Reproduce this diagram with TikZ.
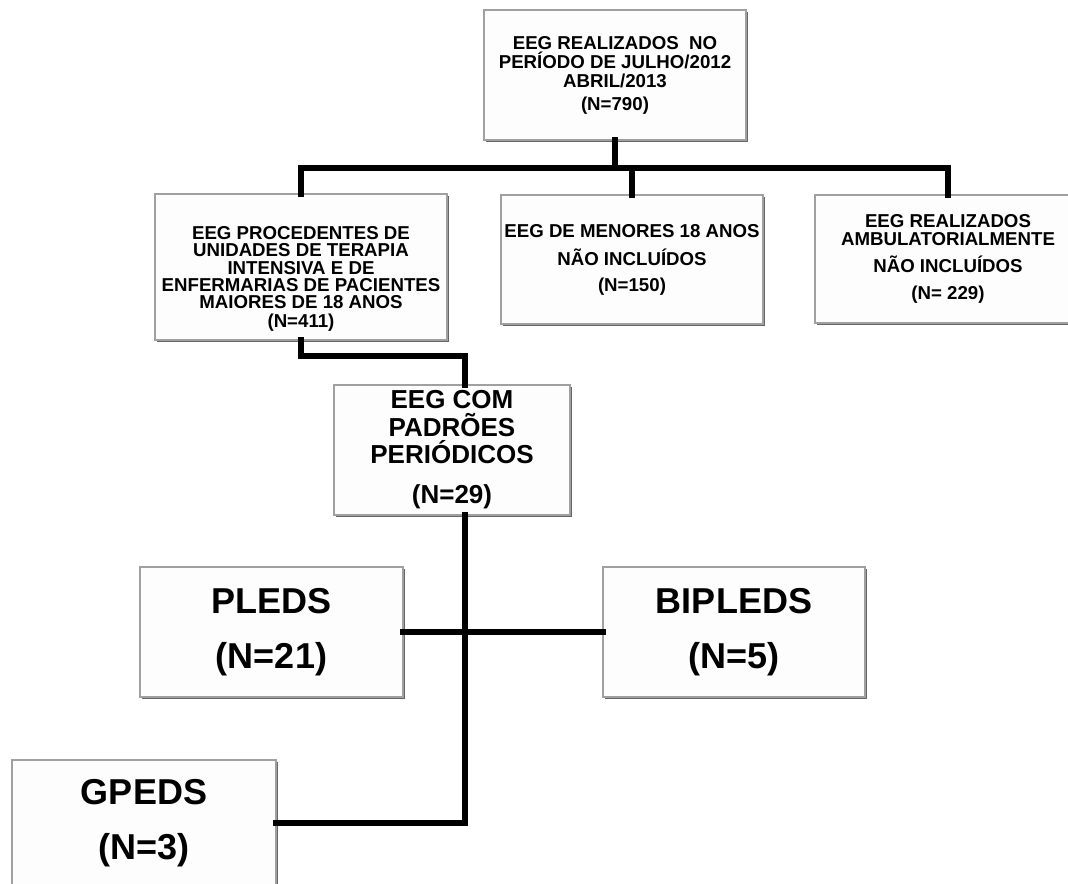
\documentclass[tikz,border=0pt]{standalone}
\usepackage{fontspec}
\setmainfont{Liberation Sans}
\usetikzlibrary{shadows}
\definecolor{boxfill}{HTML}{FDFDFD}
\definecolor{boxline}{HTML}{A0A0A0}
\tikzset{
  box/.style={draw=boxline, line width=1pt, fill=boxfill, inner sep=0pt, outer sep=0pt,
    align=center, font=\bfseries,
    drop shadow={shadow xshift=1.3pt, shadow yshift=-1.3pt, fill=black!60, opacity=1}},
  conn/.style={line width=3.9pt, black, line cap=rect},
  small/.style={font=\bfseries\fontsize{14}{#1}\selectfont},
  small/.default=13.5,
  medium/.style={font=\bfseries\fontsize{19.5}{20.6}\selectfont},
  large/.style={font=\bfseries\fontsize{27}{41}\selectfont}
}
\begin{document}
\begin{tikzpicture}[x=0.75pt, y=-0.75pt]
\useasboundingbox (0,0) rectangle (1068,884);

\node[box, small=14.25, minimum width=196.5pt, minimum height=97.5pt] (top) at (615,75)
  {EEG REALIZADOS \ NO\\PERÍODO DE JULHO/2012\\ABRIL/2013\\[3pt](N=790)};
\node[box, small=13, minimum width=219pt, minimum height=109.5pt] (left) at (301,267)
  {\rule{0pt}{28pt}EEG PROCEDENTES DE\\UNIDADES DE TERAPIA\\INTENSIVA E DE\\ENFERMARIAS DE PACIENTES\\MAIORES DE 18 ANOS\\[1.3pt](N=411)};
\node[box, small, minimum width=196.5pt, minimum height=96.75pt] (mid) at (632,259.5)
  {EEG DE MENORES 18 ANOS\\[7.5pt]NÃO INCLUÍDOS\\[6pt](N=150)};
\node[box, small, minimum width=199.5pt, minimum height=96pt] (right) at (948,259)
  {EEG REALIZADOS\\AMBULATORIALMENTE\\[6.5pt]NÃO INCLUÍDOS\\[6.5pt](N= 229)};
\node[box, medium, minimum width=177pt, minimum height=97.5pt] (pp) at (452,450)
  {EEG COM\\PADRÕES\\PERIÓDICOS\\[9.4pt](N=29)};
\node[box, large, minimum width=197.25pt, minimum height=97.5pt] (pleds) at (271.5,632)
  {PLEDS\\(N=21)};
\node[box, large, minimum width=196.5pt, minimum height=97.5pt] (bipleds) at (734,632)
  {BIPLEDS\\(N=5)};
\node[box, large, minimum width=198pt, minimum height=94.5pt] (gpeds) at (144,823)
  {GPEDS\\(N=3)};

\coordinate (barL) at (301,168);
\coordinate (barR) at (948,168);
\coordinate (spine) at (465,356);

\draw[conn, line width=4.5pt] (barL) -- (barR);
\draw[conn] (top.south) -- (top.south |- barL);
\draw[conn] (barL) -- (left.north);
\draw[conn] (mid.north |- barL) -- (mid.north);
\draw[conn] (right.north |- barL) -- (right.north);
\draw[conn] (left.south) |- (spine) -- (spine |- pp.north);
\draw[conn] (spine |- pp.south) |- (gpeds.east);
\draw[conn] (pleds.east) -- (bipleds.west);
\end{tikzpicture}
\end{document}
